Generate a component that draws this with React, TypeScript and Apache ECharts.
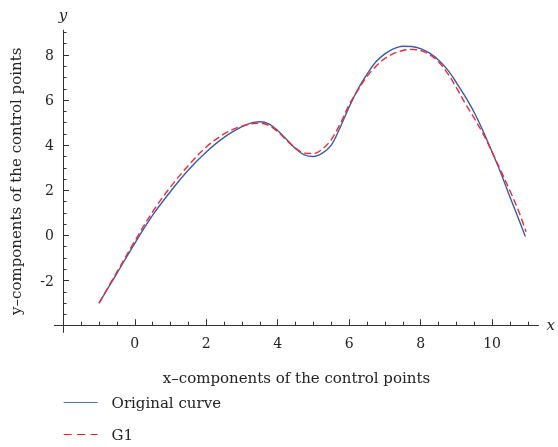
import React, { useEffect, useRef } from "react";
import * as echarts from "echarts";

const origX = [-1, -0.5, 0, 0.5, 1, 1.5, 2, 2.5, 3, 3.25, 3.5, 3.75, 4, 4.25, 4.5, 4.75, 5, 5.25, 5.5, 5.75, 6, 6.25, 6.5, 6.75, 7, 7.25, 7.5, 7.75, 8, 8.25, 8.5, 8.75, 9, 9.25, 9.5, 9.75, 10, 10.25, 10.5, 10.75, 10.93];
const origY = [-3, -1.68, -0.35, 0.9, 1.95, 2.9, 3.7, 4.35, 4.82, 4.98, 5.04, 4.95, 4.65, 4.25, 3.85, 3.57, 3.5, 3.65, 4.0, 4.8, 5.7, 6.5, 7.15, 7.7, 8.05, 8.28, 8.39, 8.38, 8.28, 8.08, 7.78, 7.35, 6.78, 6.15, 5.45, 4.62, 3.7, 2.75, 1.7, 0.7, -0.05];

const g1X = [-1, -0.5, 0, 0.5, 1, 1.5, 2, 2.5, 3, 3.5, 3.75, 4, 4.25, 4.5, 4.75, 5, 5.25, 5.5, 5.75, 6, 6.25, 6.5, 6.75, 7, 7.25, 7.5, 7.75, 8, 8.25, 8.5, 8.75, 9, 9.25, 9.5, 9.75, 10, 10.25, 10.5, 10.75, 10.95];
const g1Y = [-3, -1.62, -0.25, 1.05, 2.15, 3.1, 3.92, 4.5, 4.85, 4.98, 4.88, 4.6, 4.22, 3.87, 3.65, 3.63, 3.83, 4.25, 4.95, 5.8, 6.45, 7.05, 7.5, 7.85, 8.07, 8.2, 8.25, 8.2, 8.02, 7.7, 7.2, 6.55, 5.85, 5.2, 4.5, 3.7, 2.85, 1.98, 1.05, 0.16];

const xMajor = [0, 2, 4, 6, 8, 10];
const xMinor = [-1.5, -1, -0.5, 0, 0.5, 1, 1.5, 2, 2.5, 3, 3.5, 4, 4.5, 5, 5.5, 6, 6.5, 7, 7.5, 8, 8.5, 9, 9.5, 10, 10.5, 11];
const yMajor = [-2, 0, 2, 4, 6, 8];
const yMinor = [-3.5, -3, -2.5, -2, -1.5, -1, -0.5, 0, 0.5, 1, 1.5, 2, 2.5, 3, 3.5, 4, 4.5, 5, 5.5, 6, 6.5, 7, 7.5, 8, 8.5, 9];

const seriesNames = ["Original curve", "G1"];
const xName = "x–components of the control points";
const yName = "y–components of the control points";

const FONT = "DejaVu Serif";
const AXIS_COLOR = "#333";
const TEXT_COLOR = "#222";
const BLUE = "#3b5ba8";
const RED = "#ee2b35";

export default function App() {
  const ref = useRef<HTMLDivElement>(null);
  useEffect(() => {
    if (!ref.current) return;
    const chart = echarts.init(ref.current, undefined, { renderer: "svg" });
    const xBase = {
      type: "value",
      min: -2.25,
      max: 11.3,
      position: "bottom",
      offset: -7.2,
      splitLine: { show: false },
    };
    const yBase = {
      type: "value",
      min: -4.3,
      max: 9.1,
      position: "left",
      offset: -8.6,
      splitLine: { show: false },
    };
    chart.setOption({
      animation: false,
      grid: { left: 53.7, right: 18.8, top: 30.2, bottom: 114.6, containLabel: false },
      xAxis: [
        {
          ...xBase,
          name: "x",
          nameLocation: "end",
          nameGap: 8,
          nameTextStyle: { fontFamily: FONT, fontStyle: "italic", fontSize: 15, color: TEXT_COLOR, align: "left", verticalAlign: "middle" },
          axisLine: { show: true, onZero: false, lineStyle: { color: AXIS_COLOR, width: 1 } },
          axisTick: { show: true, inside: true, length: 6, customValues: xMajor, lineStyle: { color: AXIS_COLOR } },
          axisLabel: { show: true, customValues: xMajor, margin: 11, fontFamily: FONT, fontSize: 14, color: TEXT_COLOR },
        },
        {
          ...xBase,
          name: xName,
          nameLocation: "middle",
          nameGap: 45,
          nameTextStyle: { fontFamily: FONT, fontSize: 15, color: TEXT_COLOR },
          axisLine: { show: false, onZero: false },
          axisTick: { show: true, inside: true, length: 3.5, customValues: xMinor, lineStyle: { color: AXIS_COLOR } },
          axisLabel: { show: false },
        },
      ],
      yAxis: [
        {
          ...yBase,
          name: "y",
          nameLocation: "end",
          nameGap: 8,
          nameTextStyle: { fontFamily: FONT, fontStyle: "italic", fontSize: 15, color: TEXT_COLOR, align: "center" },
          axisLine: { show: true, onZero: false, lineStyle: { color: AXIS_COLOR, width: 1 } },
          axisTick: { show: true, inside: true, length: 6, customValues: yMajor, lineStyle: { color: AXIS_COLOR } },
          axisLabel: { show: true, customValues: yMajor, margin: 9, fontFamily: FONT, fontSize: 14, color: TEXT_COLOR },
        },
        {
          ...yBase,
          name: yName,
          nameLocation: "middle",
          nameGap: 40,
          nameRotate: 90,
          nameTextStyle: { fontFamily: FONT, fontSize: 15, color: TEXT_COLOR },
          axisLine: { show: false, onZero: false },
          axisTick: { show: true, inside: true, length: 3.5, customValues: yMinor, lineStyle: { color: AXIS_COLOR } },
          axisLabel: { show: false },
        },
      ],
      legend: {
        orient: "vertical",
        left: 63,
        top: 395,
        padding: 0,
        itemWidth: 34,
        itemHeight: 14,
        itemGap: 17,
        itemStyle: { opacity: 0 },
        textStyle: { fontFamily: FONT, fontSize: 15, color: TEXT_COLOR, padding: [0, 0, 0, 9] },
        data: [
          { name: seriesNames[0], lineStyle: { color: "#5470b5", width: 1.2 } },
          { name: seriesNames[1], lineStyle: { color: "#ff1a1a", width: 1.2, type: [8, 5.5] } },
        ],
      },
      series: [
        {
          name: seriesNames[0],
          type: "line",
          xAxisIndex: 0,
          yAxisIndex: 0,
          data: origX.map((x, i) => [x, origY[i]]),
          smooth: 0.35,
          symbol: "none",
          lineStyle: { color: BLUE, width: 1.4 },
          itemStyle: { color: BLUE },
        },
        {
          name: seriesNames[1],
          type: "line",
          xAxisIndex: 0,
          yAxisIndex: 0,
          data: g1X.map((x, i) => [x, g1Y[i]]),
          smooth: 0.35,
          symbol: "none",
          lineStyle: { color: RED, width: 1.4, type: [7, 3.5] },
          itemStyle: { color: RED },
        },
      ],
    });
    return () => chart.dispose();
  }, []);
  return <div ref={ref} style={{ position: "fixed", left: 0, top: 0, width: 558, height: 447 }} />;
}
